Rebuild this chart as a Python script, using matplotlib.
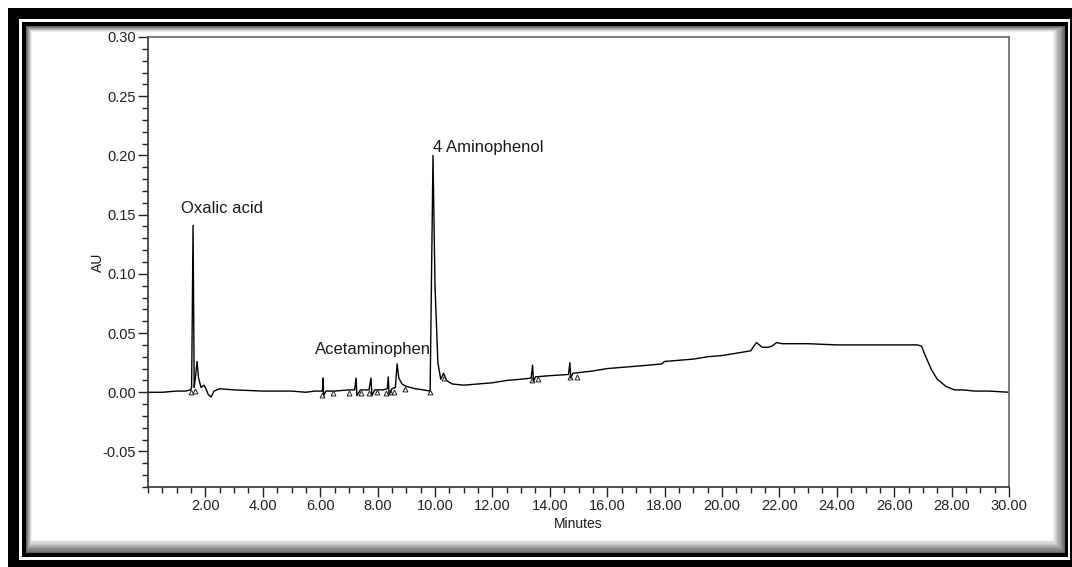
import matplotlib
matplotlib.use('Agg')
import matplotlib.pyplot as plt
from matplotlib.patches import Rectangle
from matplotlib.ticker import MultipleLocator, FormatStrFormatter

plt.rcParams['font.family'] = ['Liberation Sans', 'DejaVu Sans']

# 色谱数据
时间 = [0.0, 0.5, 1.0, 1.3, 1.48, 1.52, 1.57, 1.61, 1.65, 1.71, 1.76, 1.85, 1.95, 2.02, 2.1,
      2.2, 2.3, 2.5, 3.0, 4.0, 5.0, 5.5, 5.8, 6.0, 6.08, 6.1, 6.12, 6.2, 6.5, 7.0, 7.2,
      7.25, 7.28, 7.4, 7.7, 7.77, 7.8, 7.9, 8.2, 8.34, 8.37, 8.4, 8.5, 8.62, 8.68, 8.74,
      8.85, 9.0, 9.3, 9.6, 9.83, 9.93, 10.0, 10.1, 10.2, 10.3, 10.4, 10.6, 11.0, 11.5,
      12.0, 12.5, 13.0, 13.35, 13.4, 13.43, 13.5, 14.0, 14.65, 14.7, 14.73, 14.8, 15.5,
      16.0, 16.5, 17.0, 17.5, 17.9, 18.0, 18.5, 19.0, 19.5, 20.0, 20.5, 21.0, 21.2, 21.4,
      21.6, 21.75, 21.9, 22.1, 22.5, 23.0, 24.0, 25.0, 26.0, 26.8, 26.95, 27.1, 27.3,
      27.5, 27.8, 28.1, 28.4, 28.8, 29.3, 30.0]
吸光度 = [0.000, 0.000, 0.001, 0.001, 0.002, 0.004, 0.141, 0.004, 0.012, 0.026, 0.012,
       0.004, 0.006, 0.003, -0.002, -0.004, 0.001, 0.003, 0.002, 0.001, 0.001, 0.000,
       0.001, 0.001, 0.001, 0.012, -0.003, 0.001, 0.001, 0.002, 0.002, 0.012, -0.003,
       0.002, 0.002, 0.012, -0.003, 0.002, 0.002, 0.003, 0.013, -0.002, 0.003, 0.004,
       0.024, 0.012, 0.007, 0.005, 0.003, 0.002, 0.001, 0.200, 0.090, 0.025, 0.011,
       0.016, 0.010, 0.007, 0.006, 0.007, 0.008, 0.010, 0.011, 0.012, 0.023, 0.009,
       0.013, 0.014, 0.015, 0.025, 0.012, 0.016, 0.018, 0.020, 0.021, 0.022, 0.023,
       0.024, 0.026, 0.027, 0.028, 0.030, 0.031, 0.033, 0.035, 0.042, 0.038, 0.038,
       0.039, 0.042, 0.041, 0.041, 0.041, 0.040, 0.040, 0.040, 0.040, 0.039, 0.030,
       0.019, 0.011, 0.005, 0.002, 0.002, 0.001, 0.001, 0.000]

# 积分标记（三角）
标记时间 = [1.50, 1.63, 6.05, 6.43, 7.00, 7.42, 7.70, 7.97, 8.29, 8.43, 8.57, 8.95,
        9.83, 10.30, 13.37, 13.59, 14.70, 14.94]
标记值 = [0.000, 0.001, -0.002, -0.001, -0.001, -0.001, -0.001, 0.000, -0.001, 0.000,
       0.000, 0.003, 0.000, 0.012, 0.010, 0.011, 0.013, 0.013]

# 峰名
峰名 = ['Oxalic acid', 'Acetaminophen', '4 Aminophenol']
峰名位置 = [(2.58, 0.149), (5.82, 0.030), (9.93, 0.200)]

W, H = 1072, 567
布 = plt.figure(figsize=(W / 100, H / 100), dpi=100)


def 框(x0, y0, x1, y1, 色):
    布.add_artist(Rectangle((x0 / W, 1 - y1 / H), (x1 - x0) / W, (y1 - y0) / H,
                            transform=布.transFigure, facecolor=色, edgecolor='none',
                            zorder=-10))


# 边框和阴影
框(8, 8, 1080, 580, 'black')
框(19, 19, 1070, 560, 'white')
框(22, 22, 1068, 557, 'black')
n = 12
for i in range(n):
    f = i / (n - 1)
    灰 = 0.4 + 0.6 * f
    框(26 + 6 * f, 26 + 6 * f, 1065 - 12 * f, 553 - 13 * f, (灰, 灰, 灰))

图 = 布.add_axes([148 / W, 1 - 487 / H, (1009 - 148) / W, (487 - 37) / H])
图.plot(时间, 吸光度, color='black', lw=1.0)
图.plot(标记时间, 标记值, ls='none', marker='^', ms=3.5, mfc='none', mec='#222222', mew=0.7)

for 名, (x, y) in zip(峰名, 峰名位置):
    ha = 'center' if 名 == 'Oxalic acid' else 'left'
    图.text(x, y, 名, fontsize=12, ha=ha, va='bottom', color='#1a1a1a')

图.set_xlim(0, 30)
图.set_ylim(-0.08, 0.30)
图.xaxis.set_minor_locator(MultipleLocator(0.5))
图.yaxis.set_major_locator(MultipleLocator(0.05))
图.yaxis.set_minor_locator(MultipleLocator(0.01))
图.xaxis.set_major_formatter(FormatStrFormatter('%.2f'))
图.yaxis.set_major_formatter(FormatStrFormatter('%.2f'))
图.set_xticks([2 * k for k in range(1, 16)])
图.tick_params(which='major', length=7, width=1, labelsize=10.5, colors='#222222', pad=1.5)
图.tick_params(which='minor', length=4, width=1, colors='#222222')
for s in 图.spines.values():
    s.set_color('#666666')
    s.set_linewidth(1.2)
图.spines['left'].set_color('#333333')
图.spines['bottom'].set_color('#333333')
图.set_xlabel('Minutes', fontsize=10, labelpad=3, color='#1a1a1a')
图.set_ylabel('AU', fontsize=10, color='#1a1a1a')
图.yaxis.set_label_coords(-0.05, 0.5)

plt.savefig('out.png', dpi=100)
